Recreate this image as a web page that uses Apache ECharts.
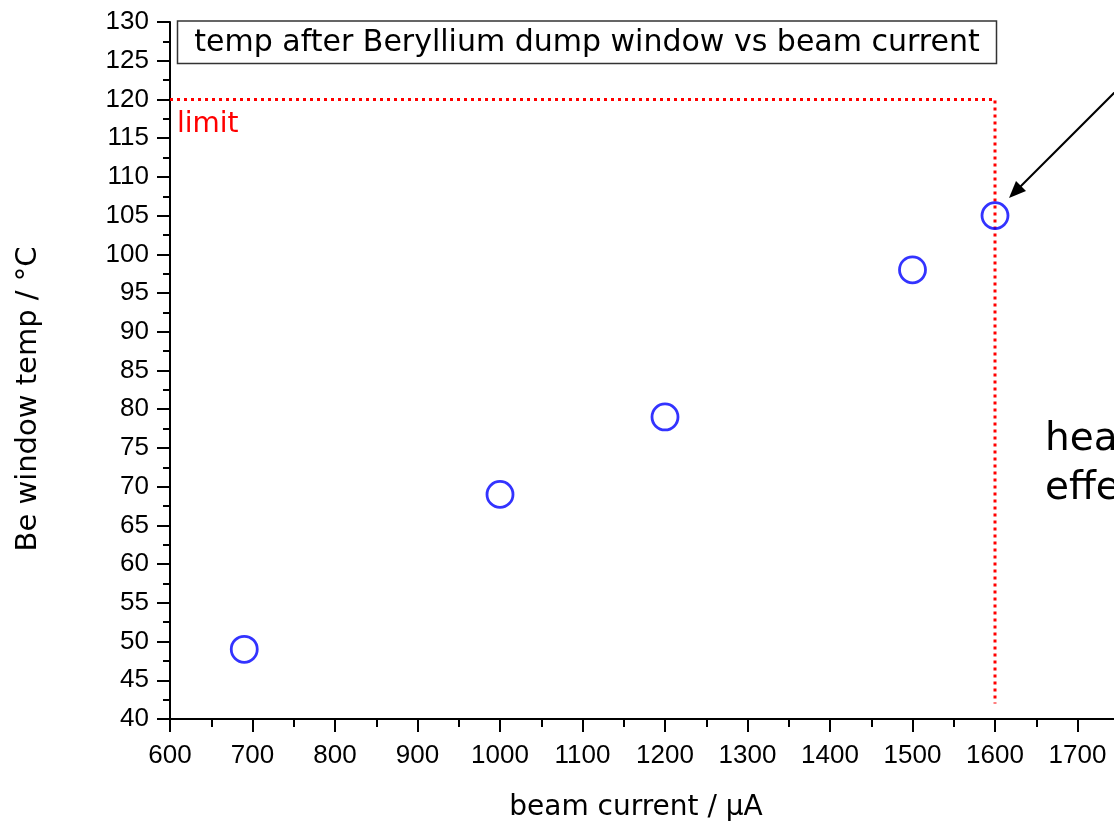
<!DOCTYPE html>
<html>
<head>
<meta charset="utf-8">
<script src="https://cdn.jsdelivr.net/npm/echarts@6/dist/echarts.min.js"></script>
<style>
html,body{margin:0;padding:0;background:#fff;}
#chart{width:1114px;height:827px;}
</style>
</head>
<body>
<div id="chart"></div>
<script>
// Data
var beamCurrent = [690, 1000, 1200, 1500, 1600];   // µA
var windowTemp  = [49, 69, 79, 98, 105];            // °C
var limitTemp = 120;
var limitCurrent = 1600;
var limitLineBottom = 42;
var xMin = 600, xMax = 1800, xStep = 100;
var yMin = 40, yMax = 130, yStep = 5;
var titleText = 'temp after Beryllium dump window vs beam current';
var xName = 'beam current / µA';
var yName = 'Be window temp / °C';
var noteLines = ['heat', 'effect'];

var FONT = 'DejaVu Sans';
var TICKFONT = 'Liberation Sans';
var points = beamCurrent.map(function (x, i) { return [x, windowTemp[i]]; });
var limitPath = [[xMin, limitTemp], [limitCurrent, limitTemp], [limitCurrent, limitLineBottom]];
var plain = function (v) { return String(v); };

var chart = echarts.init(document.getElementById('chart'));
chart.setOption({
  animation: false,
  backgroundColor: '#fff',
  grid: { left: 170, top: 22, width: 990, height: 697, containLabel: false, outerBoundsMode: 'none' },
  xAxis: {
    type: 'value', min: xMin, max: xMax, interval: xStep,
    axisLine: { show: true, onZero: false, lineStyle: { color: '#000', width: 2 } },
    axisTick: { show: true, length: 13, lineStyle: { color: '#000', width: 2 } },
    minorTick: { show: true, splitNumber: 2, length: 8, lineStyle: { color: '#000', width: 2 } },
    axisLabel: { color: '#000', fontSize: 26, fontFamily: TICKFONT, margin: 24, formatter: plain },
    splitLine: { show: false }
  },
  yAxis: {
    type: 'value', min: yMin, max: yMax, interval: yStep,
    axisLine: { show: true, onZero: false, lineStyle: { color: '#000', width: 2 } },
    axisTick: { show: true, length: 13, lineStyle: { color: '#000', width: 2 } },
    minorTick: { show: true, splitNumber: 2, length: 7, lineStyle: { color: '#000', width: 2 } },
    axisLabel: { color: '#000', fontSize: 26, fontFamily: TICKFONT, margin: 21, formatter: plain },
    splitLine: { show: false }
  },
  series: [
    {
      type: 'line', data: limitPath, symbol: 'none', silent: true, z: 1,
      lineStyle: { color: '#FF0000', width: 3, type: [3, 4] }
    },
    {
      type: 'scatter', data: points, symbol: 'circle', symbolSize: 26, z: 3,
      itemStyle: { color: 'rgba(0,0,0,0)', borderColor: '#0000FF', borderWidth: 2.8 }
    }
  ],
  graphic: [
    { type: 'rect', shape: { x: 177.5, y: 21, width: 819, height: 42.5 },
      style: { fill: '#fff', stroke: '#333', lineWidth: 1.5 }, z: 10 },
    { type: 'text', x: 587, y: 43, z: 11,
      style: { text: titleText, font: '30px "' + FONT + '"', fill: '#000', align: 'center', verticalAlign: 'middle' } },
    { type: 'text', x: 177, y: 125, z: 11,
      style: { text: 'limit', font: '28px "' + FONT + '"', fill: '#FF0000', align: 'left', verticalAlign: 'middle' } },
    { type: 'text', x: 28, y: 399, rotation: Math.PI / 2, z: 11,
      style: { text: yName, font: '29px "' + FONT + '"', fill: '#000', align: 'center', verticalAlign: 'middle' } },
    { type: 'text', x: 636, y: 808, z: 11,
      style: { text: xName, font: '28px "' + FONT + '"', fill: '#000', align: 'center', verticalAlign: 'middle' } },
    { type: 'text', x: 1045, y: 440, z: 11,
      style: { text: noteLines[0], font: '39px "' + FONT + '"', fill: '#000', align: 'left', verticalAlign: 'middle' } },
    { type: 'text', x: 1045, y: 489, z: 11,
      style: { text: noteLines[1], font: '39px "' + FONT + '"', fill: '#000', align: 'left', verticalAlign: 'middle' } },
    { type: 'line', shape: { x1: 1125, y1: 82, x2: 1018, y2: 189 }, z: 11,
      style: { stroke: '#000', lineWidth: 2 } },
    { type: 'polygon', shape: { points: [[1009, 198], [1026, 191], [1016, 181]] }, z: 11,
      style: { fill: '#000' } }
  ]
});
</script>
</body>
</html>
